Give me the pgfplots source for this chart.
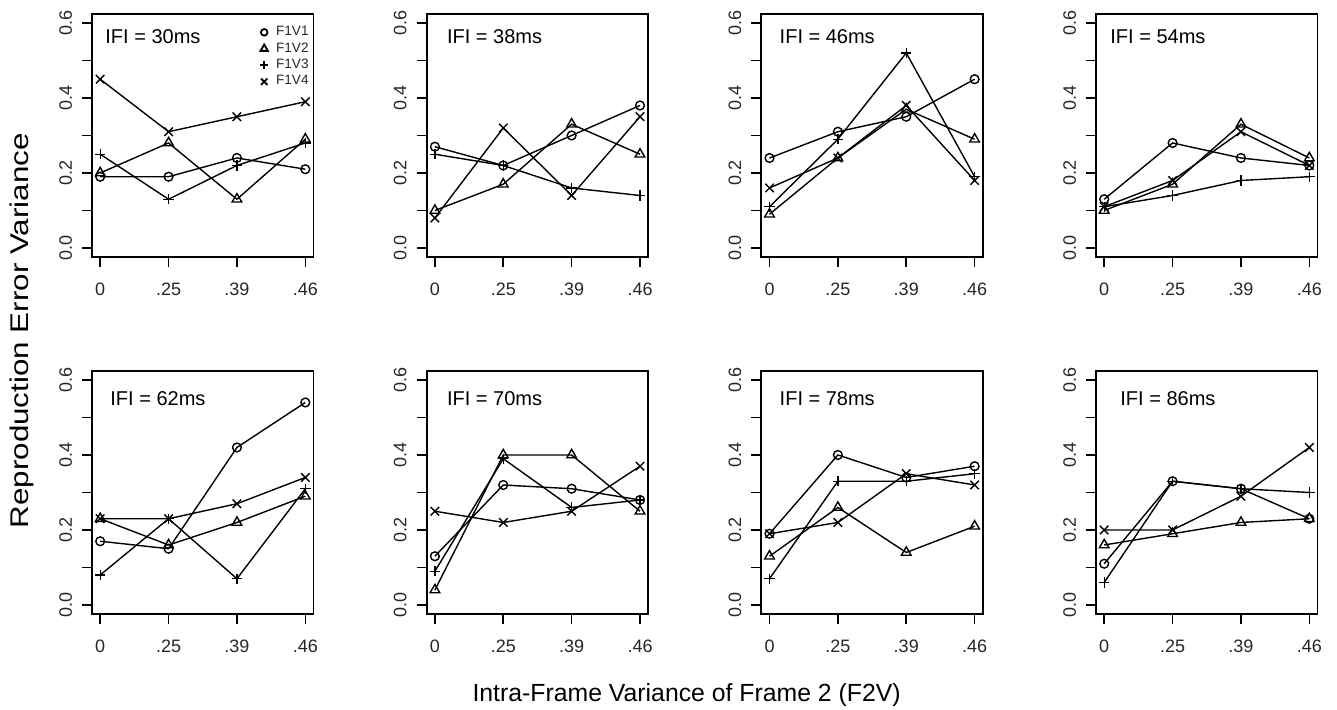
\documentclass[border=0pt]{standalone}
\usepackage{fontspec}
\setmainfont{Liberation Sans}
\usepackage{pgfplots}
\usepackage{pgfplotstable}
\pgfplotsset{compat=1.18}

\pgfplotstableread{
x a b c d
1 0.19 0.20 0.25 0.45
2 0.19 0.28 0.13 0.31
3 0.24 0.13 0.22 0.35
4 0.21 0.29 0.28 0.39
}\tA
\pgfplotstableread{
x a b c d
1 0.27 0.10 0.25 0.08
2 0.22 0.17 0.22 0.32
3 0.30 0.33 0.16 0.14
4 0.38 0.25 0.14 0.35
}\tB
\pgfplotstableread{
x a b c d
1 0.24 0.09 0.11 0.16
2 0.31 0.24 0.29 0.24
3 0.35 0.37 0.52 0.38
4 0.45 0.29 0.19 0.18
}\tC
\pgfplotstableread{
x a b c d
1 0.13 0.10 0.11 0.11
2 0.28 0.17 0.14 0.18
3 0.24 0.33 0.18 0.31
4 0.22 0.24 0.19 0.22
}\tD
\pgfplotstableread{
x a b c d
1 0.17 0.23 0.08 0.23
2 0.15 0.16 0.23 0.23
3 0.42 0.22 0.07 0.27
4 0.54 0.29 0.31 0.34
}\tE
\pgfplotstableread{
x a b c d
1 0.13 0.04 0.09 0.25
2 0.32 0.40 0.39 0.22
3 0.31 0.40 0.26 0.25
4 0.28 0.25 0.28 0.37
}\tF
\pgfplotstableread{
x a b c d
1 0.19 0.13 0.07 0.19
2 0.40 0.26 0.33 0.22
3 0.34 0.14 0.33 0.35
4 0.37 0.21 0.35 0.32
}\tG
\pgfplotstableread{
x a b c d
1 0.11 0.16 0.06 0.20
2 0.33 0.19 0.33 0.20
3 0.31 0.22 0.31 0.29
4 0.23 0.23 0.30 0.42
}\tH

\tikzset{ifi/.style={anchor=west, inner sep=0pt, font=\fontsize{10}{12}\selectfont}}

\pgfplotsset{
  legend image code/.code={\draw[#1] plot coordinates {(0pt,0pt)}; \path (4.6pt,0pt);},
  s1/.style={black, line width=0.7pt, mark=o, mark size=2.2pt, mark options={solid}},
  s2/.style={black, line width=0.7pt, mark=triangle, mark size=2.8pt, mark options={solid}},
  s3/.style={black, line width=0.7pt, mark=+, mark size=2.6pt, mark options={solid}},
  s4/.style={black, line width=0.7pt, mark=x, mark size=3.0pt, mark options={solid}},
  panel/.style={
    scale only axis, width=110.75pt, height=121.5pt, anchor=south west,
    xmin=0.88, xmax=4.12, ymin=-0.024, ymax=0.624,
    xtick={1,2,3,4}, xticklabels={0,.25,.39,.46},
    ytick={0,0.1,0.2,0.3,0.4,0.5,0.6}, yticklabels={0.0,,0.2,,0.4,,0.6},
    tick align=outside, tick pos=left, major tick length=5pt,
    axis line style={line width=0.9pt},
    every tick/.style={black, line width=0.8pt},
    /pgf/number format/assume math mode=true,
    tick label style={font=\fontsize{9}{10}\selectfont, text=black!85},
    yticklabel style={rotate=90, anchor=south},
    xticklabel shift=4.3pt, yticklabel shift=1.5pt,
  },
}

\newcommand{\drawpanel}[7]{%
\begin{axis}[panel, at={(#1,#2)},
  legend style={at={(axis description cs:0.758,0.958)}, anchor=north west,
    draw=none, fill=none, inner sep=0pt, row sep=0.4pt,
    font=\fontsize{6.8}{7}\selectfont, text=black!85,
    nodes={inner sep=0.8pt}},
  legend cell align=left]
  #7
  \addplot[s1] table[x=x,y=a]{#3};
  \addplot[s2] table[x=x,y=b]{#3};
  \addplot[s3] table[x=x,y=c]{#3};
  \addplot[s4] table[x=x,y=d]{#3};
  \node[ifi] at (axis description cs:#5,#6) {IFI = #4ms};
\end{axis}}

\begin{document}
\begin{tikzpicture}
\useasboundingbox (0,0) rectangle (668.5pt,355pt);
\drawpanel{46pt}{226.5pt}{\tA}{30}{0.0587}{0.9053}{%
  \addlegendimage{only marks, black, mark=o, mark size=1.65pt, line width=0.9pt}
  \addlegendentry{F1V1}
  \addlegendimage{only marks, black, mark=triangle, mark size=2.1pt, line width=0.9pt}
  \addlegendentry{F1V2}
  \addlegendimage{only marks, black, mark=+, mark size=1.95pt, line width=1.1pt}
  \addlegendentry{F1V3}
  \addlegendimage{only marks, black, mark=x, mark size=2.25pt, line width=0.9pt}
  \addlegendentry{F1V4}}
\drawpanel{213.35pt}{226.5pt}{\tB}{38}{0.0903}{0.9053}{}
\drawpanel{380.65pt}{226.5pt}{\tC}{46}{0.0813}{0.9053}{}
\drawpanel{548pt}{226.5pt}{\tD}{54}{0.0632}{0.9053}{}
\drawpanel{46pt}{48pt}{\tE}{62}{0.0813}{0.8868}{}
\drawpanel{213.35pt}{48pt}{\tF}{70}{0.0903}{0.8868}{}
\drawpanel{380.65pt}{48pt}{\tG}{78}{0.0813}{0.8868}{}
\drawpanel{548pt}{48pt}{\tH}{86}{0.1084}{0.8868}{}
\node[rotate=90, xscale=1.225, anchor=base, font=\fontsize{12.8}{15}\selectfont]
  at (14.2pt,189.6pt) {Reproduction Error Variance};
\node[anchor=base, font=\fontsize{12.4}{15}\selectfont]
  at (343.3pt,4.2pt) {Intra-Frame Variance of Frame 2 (F2V)};
\end{tikzpicture}
\end{document}
